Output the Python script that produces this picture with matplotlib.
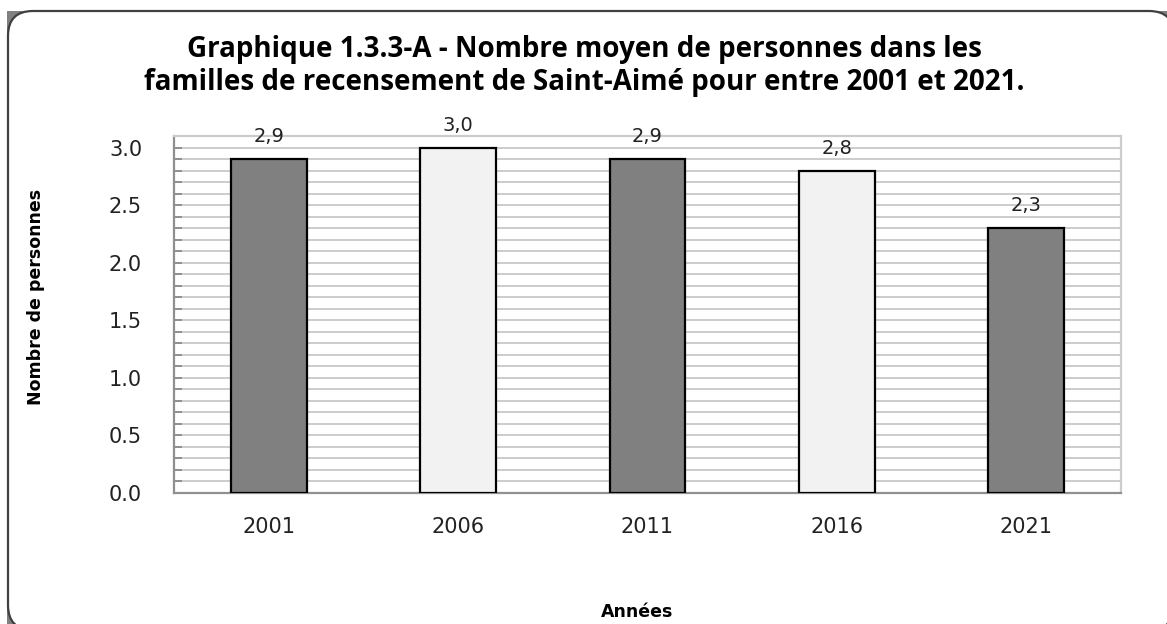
import numpy as np
import matplotlib
matplotlib.use("Agg")
import matplotlib.pyplot as plt
from matplotlib.patches import FancyBboxPatch, Rectangle
from matplotlib.transforms import IdentityTransform
from matplotlib.ticker import MultipleLocator

# donnees
annees = ["2001", "2006", "2011", "2016", "2021"]
moyennes = [2.9, 3.0, 2.9, 2.8, 2.3]
etiquettes = ["2,9", "3,0", "2,9", "2,8", "2,3"]
couleurs = ["#808080", "#f2f2f2", "#808080", "#f2f2f2", "#808080"]

titre = ("Graphique 1.3.3-A - Nombre moyen de personnes dans les\n"
         "familles de recensement de Saint-Aimé pour entre 2001 et 2021.")

plt.rcParams['font.family'] = ['DejaVu Sans']

W, H = 1167, 624
fig = plt.figure(figsize=(W / 100, H / 100), dpi=100)

# cadre arrondi avec coins gris
fig.patches.append(Rectangle((7, -10), 1180, 624 - 11 + 10, transform=IdentityTransform(),
                             facecolor="#808080", edgecolor="none", zorder=-3))
fig.patches.append(FancyBboxPatch((8, -6), 1166, 613 + 6,
                                  boxstyle="round,pad=0,rounding_size=25",
                                  transform=IdentityTransform(),
                                  facecolor="white", edgecolor="#404040",
                                  linewidth=1.6, zorder=-2))

ax = fig.add_axes([174 / W, 131 / H, 947 / W, 357 / H])
ax.set_facecolor("white")

x = np.arange(len(annees))
bars = ax.bar(x, moyennes, width=0.40, color=couleurs, edgecolor="black",
              linewidth=1.6, zorder=3)

for xi, v, lab in zip(x, moyennes, etiquettes):
    ax.text(xi, v + 0.11, lab, ha="center", va="bottom", fontsize=14,
            color="#222222", clip_on=False)

ax.set_xlim(-0.5, len(annees) - 0.5)
ax.set_ylim(0, 3.1)
ax.yaxis.set_major_locator(MultipleLocator(0.5))
ax.yaxis.set_minor_locator(MultipleLocator(0.1))
ax.yaxis.set_major_formatter(matplotlib.ticker.FormatStrFormatter("%.1f"))
ax.grid(axis="y", which="both", color="#cccccc", linewidth=1.4, zorder=0)
ax.set_axisbelow(True)

ax.set_xticks(x)
ax.set_xticklabels(annees)
ax.tick_params(axis="x", length=0, pad=17, labelsize=15, labelcolor="#222222")
ax.tick_params(axis="y", which="both", direction="in", length=6, width=1.4,
               color="#909090", pad=23, labelsize=15, labelcolor="#222222")

for s in ["left", "bottom"]:
    ax.spines[s].set_color("#909090")
    ax.spines[s].set_linewidth(1.6)
for s in ["right", "top"]:
    ax.spines[s].set_color("#cccccc")
    ax.spines[s].set_linewidth(1.6)

ax.set_ylabel("Nombre de personnes", fontsize=12.5, fontweight="bold")
ax.yaxis.set_label_coords(-(174 - 45) / 947, (493 - 297) / 357)
fig.text(637 / W, 1 - 612 / H, "Années", ha="center", va="center",
         fontsize=12.5, fontweight="bold")

fig.text(584 / W, 1 - 66 / H, titre, ha="center", va="center", fontsize=20,
         fontweight="bold", linespacing=1.15, family=["Open Sans", "DejaVu Sans"])

fig.savefig("out.png", dpi=100)
